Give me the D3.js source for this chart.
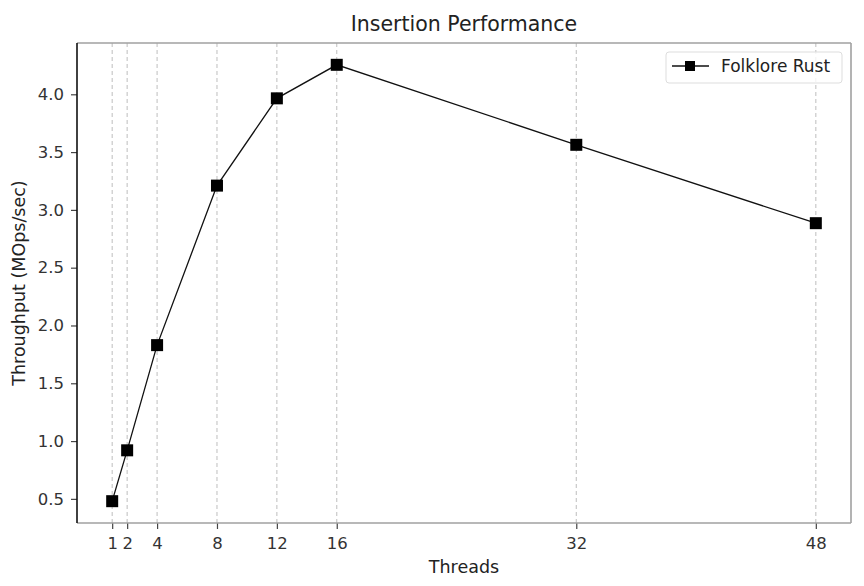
<!DOCTYPE html>
<html>
<head>
<meta charset="utf-8">
<script src="https://cdn.jsdelivr.net/npm/d3@7"></script>
<style>
  body { margin: 0; background: #fff; }
  svg { display: block; font-family: "DejaVu Sans", sans-serif; }
</style>
</head>
<body>
<svg id="chart" width="864" height="586"></svg>
<script>
const threads = [1, 2, 4, 8, 12, 16, 32, 48];
const throughput = [0.48, 0.92, 1.83, 3.21, 3.965, 4.255, 3.563, 2.885];
const yTicks = [0.5, 1.0, 1.5, 2.0, 2.5, 3.0, 3.5, 4.0];
const seriesName = "Folklore Rust";
const chartTitle = "Insertion Performance";
const xLabel = "Threads";
const yLabel = "Throughput (MOps/sec)";

const svg = d3.select("#chart");
const m = { left: 77, right: 864 - 851, top: 43, bottom: 586 - 523 };
const W = 864, H = 586;
const iw = W - m.left - m.right, ih = H - m.top - m.bottom;

const xmin = d3.min(threads), xmax = d3.max(threads);
const xpad = (xmax - xmin) * 0.05;
const ymin = d3.min(throughput), ymax = d3.max(throughput);
const ypad = (ymax - ymin) * 0.05;

const x = d3.scaleLinear().domain([xmin - xpad, xmax + xpad]).range([0, iw]);
const y = d3.scaleLinear().domain([ymin - ypad, ymax + ypad]).range([ih, 0]);

const g = svg.append("g").attr("transform", `translate(${m.left},${m.top})`);

// vertical dashed grid
g.append("g").selectAll("line").data(threads).join("line")
  .attr("x1", d => x(d)).attr("x2", d => x(d))
  .attr("y1", 0).attr("y2", ih)
  .attr("stroke", "#c4c4c4").attr("stroke-width", 1.1)
  .attr("stroke-dasharray", "4,3");

// axes
const xAxis = d3.axisBottom(x).tickValues(threads).tickSize(6).tickPadding(8).tickFormat(d3.format("d"));
const yAxis = d3.axisLeft(y).tickValues(yTicks).tickSize(6).tickPadding(7).tickFormat(d3.format(".1f"));

const gx = g.append("g").attr("transform", `translate(0,${ih})`).call(xAxis);
const gy = g.append("g").call(yAxis);
[gx, gy].forEach(a => {
  a.select(".domain").remove();
  a.selectAll(".tick line").attr("stroke", "#444").attr("stroke-width", 1.2);
  a.selectAll(".tick text").attr("fill", "#333").style("font-size", "16.5px")
    .style("font-family", "'DejaVu Sans', sans-serif");
});

// spines
g.append("line").attr("x1", 0).attr("x2", iw).attr("y1", 0).attr("y2", 0).attr("stroke", "#a0a0a0").attr("stroke-width", 1.6);
g.append("line").attr("x1", iw).attr("x2", iw).attr("y1", 0).attr("y2", ih).attr("stroke", "#a0a0a0").attr("stroke-width", 1.6);
g.append("line").attr("x1", 0).attr("x2", iw).attr("y1", ih).attr("y2", ih).attr("stroke", "#a0a0a0").attr("stroke-width", 1.6);
g.append("line").attr("x1", 0).attr("x2", 0).attr("y1", 0).attr("y2", ih).attr("stroke", "#111").attr("stroke-width", 1.6);

// line
const data = threads.map((t, i) => ({ t, v: throughput[i] }));
g.append("path").datum(data)
  .attr("fill", "none").attr("stroke", "#111").attr("stroke-width", 1.3)
  .attr("d", d3.line().x(d => x(d.t)).y(d => y(d.v)));

const ms = 12;
g.append("g").selectAll("rect").data(data).join("rect")
  .attr("x", d => x(d.t) - ms / 2).attr("y", d => y(d.v) - ms / 2)
  .attr("width", ms).attr("height", ms).attr("fill", "#000");

// title and labels
svg.append("text").attr("x", m.left + iw / 2).attr("y", 31)
  .attr("text-anchor", "middle").attr("fill", "#222").style("font-size", "20.5px").text(chartTitle);
svg.append("text").attr("x", m.left + iw / 2).attr("y", 573)
  .attr("text-anchor", "middle").attr("fill", "#222").style("font-size", "17.5px").text(xLabel);
svg.append("text").attr("transform", `translate(25,${m.top + ih / 2}) rotate(-90)`)
  .attr("text-anchor", "middle").attr("fill", "#222").style("font-size", "17.5px").text(yLabel);

// legend
const lg = svg.append("g").attr("transform", "translate(666,52)");
lg.append("rect").attr("x", 0).attr("y", 0).attr("width", 176).attr("height", 31).attr("rx", 3)
  .attr("fill", "#fff").attr("fill-opacity", 0.8).attr("stroke", "#ddd").attr("stroke-width", 1);
lg.append("line").attr("x1", 6).attr("x2", 43).attr("y1", 14).attr("y2", 14)
  .attr("stroke", "#111").attr("stroke-width", 1.3);
lg.append("rect").attr("x", 24 - 10 / 2).attr("y", 14 - 10 / 2).attr("width", 10).attr("height", 10).attr("fill", "#000");
lg.append("text").attr("x", 55).attr("y", 20).attr("fill", "#222").style("font-size", "17px").text(seriesName);
</script>
</body>
</html>
